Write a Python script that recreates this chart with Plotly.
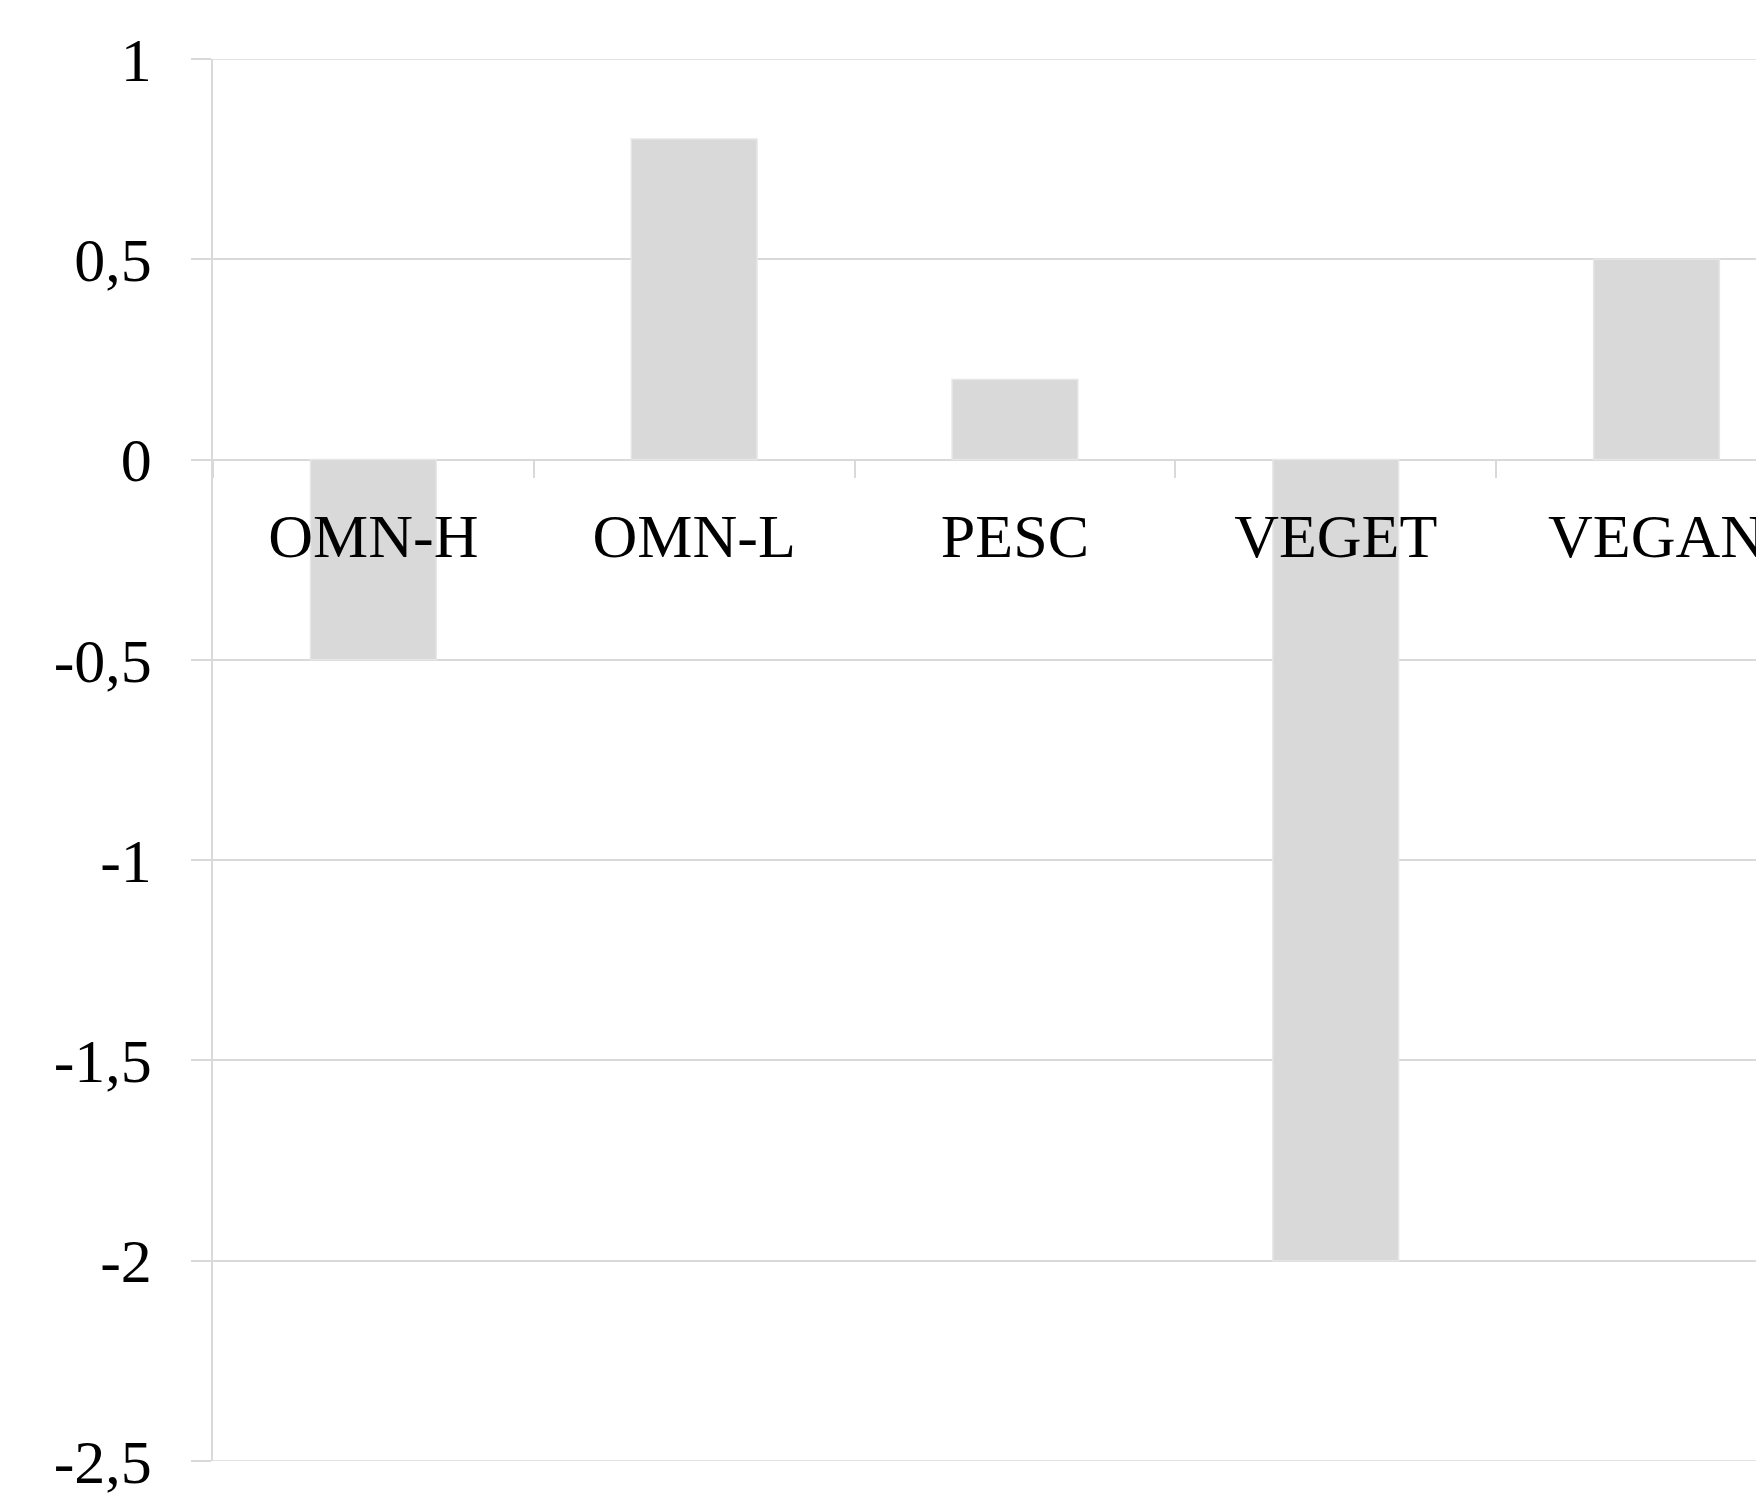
import plotly.graph_objects as go

categories = ["OMN-H", "OMN-L", "PESC", "VEGET", "VEGAN"]
values = [-0.5, 0.8, 0.2, -2.0, 0.5]
y_ticks = [1, 0.5, 0, -0.5, -1, -1.5, -2, -2.5]
y_tick_labels = ["1", "0,5", "0", "-0,5", "-1", "-1,5", "-2", "-2,5"]

y_min, y_max = -2.5, 1.0
x_range = [-0.5, 4.36]

GRID = "#d9d9d9"
FONT = "Liberation Serif"

fig = go.Figure()
fig.add_trace(go.Bar(
    x=categories,
    y=values,
    marker=dict(color="#d9d9d9", line=dict(color="#e6e6e6", width=1.5)),
    showlegend=False,
))

# gridlines at the range edges (plotly omits them)
for yv in (y_min, y_max):
    fig.add_shape(type="line", xref="paper", yref="y", x0=0, x1=1, y0=yv, y1=yv,
                  line=dict(color=GRID, width=1.5), layer="below")

fig.update_layout(
    width=1764,
    height=1494,
    margin=dict(l=205, r=0, t=51, b=41, autoexpand=False),
    paper_bgcolor="white",
    plot_bgcolor="white",
    bargap=0.608,
    xaxis=dict(
        type="category",
        range=x_range,
        anchor="free",
        position=(0 - y_min) / (y_max - y_min),
        automargin=False,
        showgrid=False,
        showline=False,
        zeroline=False,
        ticks="outside",
        tickson="boundaries",
        ticklen=17,
        tickwidth=1.5,
        tickcolor=GRID,
        ticklabelstandoff=34,
        ticklabeloverflow="allow",
        tickfont=dict(family=FONT, size=62, color="black"),
    ),
    yaxis=dict(
        range=[y_min, y_max],
        tickvals=y_ticks,
        ticktext=y_tick_labels,
        automargin=False,
        showgrid=True,
        gridcolor=GRID,
        gridwidth=1.5,
        zeroline=True,
        zerolinecolor=GRID,
        zerolinewidth=1.5,
        showline=True,
        linecolor=GRID,
        linewidth=1.5,
        ticks="outside",
        ticklen=20,
        tickwidth=1.5,
        tickcolor=GRID,
        ticklabelstandoff=27,
        ticklabeloverflow="allow",
        tickfont=dict(family=FONT, size=62, color="black"),
    ),
)

fig.write_html("out.html")
